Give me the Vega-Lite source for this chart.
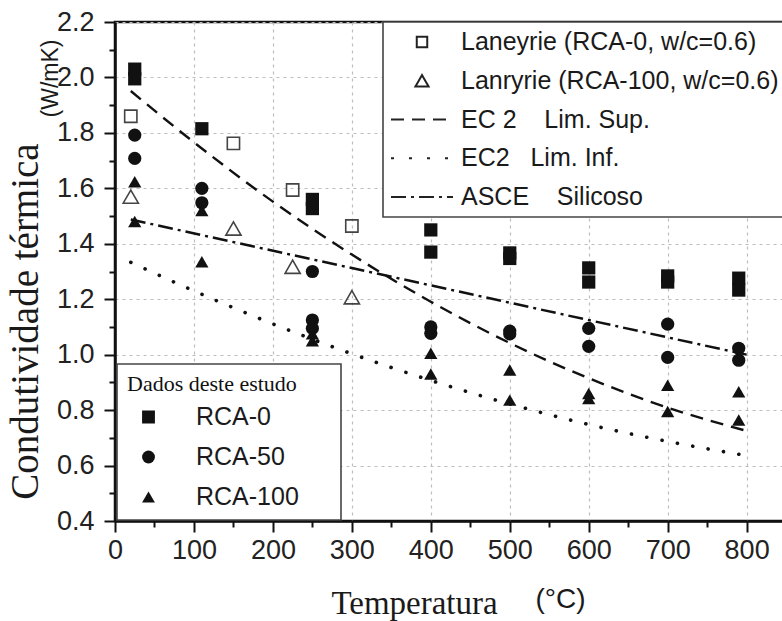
{
  "$schema": "https://vega.github.io/schema/vega-lite/v6.json",
  "width": 670,
  "height": 499,
  "autosize": {"type": "none"},
  "padding": {"left": 115, "top": 22, "right": 0, "bottom": 100},
  "background": "white",
  "config": {
    "view": {"stroke": "#111", "strokeWidth": 2.5},
    "font": "Liberation Sans",
    "axis": {
      "labelFont": "Liberation Sans", "labelFontSize": 27, "labelColor": "#222",
      "domainColor": "#111", "domainWidth": 2.5, "tickColor": "#111", "tickWidth": 2,
      "gridColor": "#bdbdbd", "gridDash": [3, 4], "gridWidth": 1.2,
      "labelFlush": false, "labelOverlap": false, "titleColor": "#1a1a1a"
    },
    "legend": {"strokeWidth": 1.6}
  },
  "datasets": {
    "estudo": [
      {"T": 25, "k": 2.03, "grupo": "RCA-0"}, {"T": 25, "k": 1.995, "grupo": "RCA-0"},
      {"T": 110, "k": 1.815, "grupo": "RCA-0"},
      {"T": 250, "k": 1.56, "grupo": "RCA-0"}, {"T": 250, "k": 1.527, "grupo": "RCA-0"},
      {"T": 400, "k": 1.45, "grupo": "RCA-0"}, {"T": 400, "k": 1.37, "grupo": "RCA-0"},
      {"T": 500, "k": 1.367, "grupo": "RCA-0"}, {"T": 500, "k": 1.347, "grupo": "RCA-0"},
      {"T": 600, "k": 1.313, "grupo": "RCA-0"}, {"T": 600, "k": 1.262, "grupo": "RCA-0"},
      {"T": 700, "k": 1.284, "grupo": "RCA-0"}, {"T": 700, "k": 1.262, "grupo": "RCA-0"},
      {"T": 790, "k": 1.276, "grupo": "RCA-0"}, {"T": 790, "k": 1.233, "grupo": "RCA-0"},
      {"T": 25, "k": 1.792, "grupo": "RCA-50"}, {"T": 25, "k": 1.708, "grupo": "RCA-50"},
      {"T": 110, "k": 1.6, "grupo": "RCA-50"}, {"T": 110, "k": 1.548, "grupo": "RCA-50"},
      {"T": 250, "k": 1.3, "grupo": "RCA-50"}, {"T": 250, "k": 1.125, "grupo": "RCA-50"}, {"T": 250, "k": 1.095, "grupo": "RCA-50"},
      {"T": 400, "k": 1.1, "grupo": "RCA-50"}, {"T": 400, "k": 1.077, "grupo": "RCA-50"},
      {"T": 500, "k": 1.085, "grupo": "RCA-50"}, {"T": 500, "k": 1.075, "grupo": "RCA-50"},
      {"T": 600, "k": 1.095, "grupo": "RCA-50"}, {"T": 600, "k": 1.03, "grupo": "RCA-50"},
      {"T": 700, "k": 1.11, "grupo": "RCA-50"}, {"T": 700, "k": 0.99, "grupo": "RCA-50"},
      {"T": 790, "k": 1.023, "grupo": "RCA-50"}, {"T": 790, "k": 0.98, "grupo": "RCA-50"},
      {"T": 25, "k": 1.624, "grupo": "RCA-100"}, {"T": 25, "k": 1.48, "grupo": "RCA-100"},
      {"T": 110, "k": 1.52, "grupo": "RCA-100"}, {"T": 110, "k": 1.335, "grupo": "RCA-100"},
      {"T": 250, "k": 1.075, "grupo": "RCA-100"}, {"T": 250, "k": 1.05, "grupo": "RCA-100"},
      {"T": 400, "k": 1.005, "grupo": "RCA-100"}, {"T": 400, "k": 0.93, "grupo": "RCA-100"},
      {"T": 500, "k": 0.945, "grupo": "RCA-100"}, {"T": 500, "k": 0.836, "grupo": "RCA-100"},
      {"T": 600, "k": 0.86, "grupo": "RCA-100"}, {"T": 600, "k": 0.842, "grupo": "RCA-100"},
      {"T": 700, "k": 0.89, "grupo": "RCA-100"}, {"T": 700, "k": 0.795, "grupo": "RCA-100"},
      {"T": 790, "k": 0.866, "grupo": "RCA-100"}, {"T": 790, "k": 0.764, "grupo": "RCA-100"}
    ],
    "laneyrie": [
      {"T": 20, "k": 1.86, "tipo": "RCA-0"}, {"T": 150, "k": 1.762, "tipo": "RCA-0"},
      {"T": 225, "k": 1.594, "tipo": "RCA-0"}, {"T": 300, "k": 1.464, "tipo": "RCA-0"},
      {"T": 20, "k": 1.57, "tipo": "RCA-100"}, {"T": 150, "k": 1.455, "tipo": "RCA-100"},
      {"T": 225, "k": 1.317, "tipo": "RCA-100"}, {"T": 300, "k": 1.207, "tipo": "RCA-100"}
    ],
    "curvas": [
      {"T": 20, "k": 1.951, "id": "sup", "serie": "EC 2\u00a0\u00a0\u00a0\u00a0Lim. Sup."},
      {"T": 100, "k": 1.766, "id": "sup", "serie": "EC 2\u00a0\u00a0\u00a0\u00a0Lim. Sup."},
      {"T": 200, "k": 1.552, "id": "sup", "serie": "EC 2\u00a0\u00a0\u00a0\u00a0Lim. Sup."},
      {"T": 300, "k": 1.361, "id": "sup", "serie": "EC 2\u00a0\u00a0\u00a0\u00a0Lim. Sup."},
      {"T": 400, "k": 1.191, "id": "sup", "serie": "EC 2\u00a0\u00a0\u00a0\u00a0Lim. Sup."},
      {"T": 500, "k": 1.042, "id": "sup", "serie": "EC 2\u00a0\u00a0\u00a0\u00a0Lim. Sup."},
      {"T": 600, "k": 0.915, "id": "sup", "serie": "EC 2\u00a0\u00a0\u00a0\u00a0Lim. Sup."},
      {"T": 700, "k": 0.809, "id": "sup", "serie": "EC 2\u00a0\u00a0\u00a0\u00a0Lim. Sup."},
      {"T": 800, "k": 0.725, "id": "sup", "serie": "EC 2\u00a0\u00a0\u00a0\u00a0Lim. Sup."},
      {"T": 20, "k": 1.333, "id": "inf", "serie": "EC2\u00a0\u00a0\u00a0Lim. Inf."},
      {"T": 100, "k": 1.23, "id": "inf", "serie": "EC2\u00a0\u00a0\u00a0Lim. Inf."},
      {"T": 200, "k": 1.111, "id": "inf", "serie": "EC2\u00a0\u00a0\u00a0Lim. Inf."},
      {"T": 300, "k": 1.003, "id": "inf", "serie": "EC2\u00a0\u00a0\u00a0Lim. Inf."},
      {"T": 400, "k": 0.907, "id": "inf", "serie": "EC2\u00a0\u00a0\u00a0Lim. Inf."},
      {"T": 500, "k": 0.822, "id": "inf", "serie": "EC2\u00a0\u00a0\u00a0Lim. Inf."},
      {"T": 600, "k": 0.748, "id": "inf", "serie": "EC2\u00a0\u00a0\u00a0Lim. Inf."},
      {"T": 700, "k": 0.687, "id": "inf", "serie": "EC2\u00a0\u00a0\u00a0Lim. Inf."},
      {"T": 800, "k": 0.636, "id": "inf", "serie": "EC2\u00a0\u00a0\u00a0Lim. Inf."},
      {"T": 20, "k": 1.4875, "id": "asce", "serie": "ASCE\u00a0\u00a0\u00a0\u00a0Silicoso"},
      {"T": 800, "k": 1.0, "id": "asce", "serie": "ASCE\u00a0\u00a0\u00a0\u00a0Silicoso"}
    ]
  },
  "resolve": {"axis": {"x": "independent", "y": "independent"}},
  "layer": [
    {
      "data": {"name": "curvas"},
      "transform": [{"filter": "datum.id !== 'inf'"}],
      "mark": {"type": "line", "strokeWidth": 2.4, "color": "#111", "interpolate": "monotone"},
      "encoding": {
        "x": {
          "field": "T", "type": "quantitative",
          "scale": {"domain": [0, 848.6], "nice": false, "zero": false},
          "axis": {
            "orient": "bottom", "values": [50, 150, 250, 350, 450, 550, 650, 750],
            "grid": false, "domain": false, "labels": false, "tickSize": 6,
            "title": "(°C)", "titleFont": "Liberation Sans", "titleFontSize": 28, "titleFontWeight": "normal",
            "titleX": 445, "titleY": 86, "titleBaseline": "alphabetic", "titleAlign": "center"
          }
        },
        "y": {
          "field": "k", "type": "quantitative",
          "scale": {"domain": [0.4, 2.2], "nice": false, "zero": false},
          "axis": {
            "orient": "left", "values": [0.5, 0.7, 0.9, 1.1, 1.3, 1.5, 1.7, 1.9, 2.1],
            "grid": false, "domain": false, "labels": false, "tickSize": 6,
            "title": "(W/mK)", "titleFont": "Liberation Sans", "titleFontSize": 23, "titleFontWeight": "normal",
            "titleX": -58, "titleY": 56, "titleBaseline": "alphabetic", "titleAlign": "center", "titleAngle": -90
          }
        },
        "strokeDash": {
          "field": "serie", "type": "nominal",
          "scale": {
            "domain": ["Laneyrie (RCA-0, w/c=0.6)", "Lanryrie (RCA-100, w/c=0.6)", "EC 2\u00a0\u00a0\u00a0\u00a0Lim. Sup.", "EC2\u00a0\u00a0\u00a0Lim. Inf.", "ASCE\u00a0\u00a0\u00a0\u00a0Silicoso"],
            "range": [[1, 0], [1, 0], [13, 8], [3, 15], [15, 5, 3, 5]]
          },
          "legend": {
            "title": null,
            "orient": "none", "legendX": 268, "legendY": 0, "direction": "vertical",
            "padding": 7, "fillColor": "white", "strokeColor": "#444",
            "symbolType": {"expr": "indexof(isString(datum) ? datum : datum.value, 'RCA-0,') >= 0 ? 'square' : (indexof(isString(datum) ? datum : datum.value, 'RCA-100,') >= 0 ? 'triangle-up' : 'stroke')"},
            "symbolSize": {"expr": "indexof(isString(datum) ? datum : datum.value, 'RCA-0,') >= 0 ? 110 : (indexof(isString(datum) ? datum : datum.value, 'RCA-100,') >= 0 ? 170 : 3844)"},
            "symbolStrokeColor": "#222", "symbolFillColor": "transparent", "symbolStrokeWidth": 2,
            "symbolOffset": 0, "clipHeight": 26, "rowPadding": 12.75, "labelOffset": 7,
            "labelFont": "Liberation Sans", "labelFontSize": 25, "labelColor": "#1a1a1a", "labelLimit": 600,
            "zindex": 1
          }
        }
      }
    },
    {
      "data": {"name": "curvas"},
      "transform": [{"filter": "datum.id === 'inf'"}],
      "mark": {"type": "line", "strokeWidth": 3.6, "strokeCap": "round", "strokeDash": [0.1, 15.5], "color": "#111", "interpolate": "monotone"},
      "encoding": {
        "x": {"field": "T", "type": "quantitative", "axis": null},
        "y": {"field": "k", "type": "quantitative", "axis": null}
      }
    },
    {
      "data": {"name": "laneyrie"},
      "transform": [{"filter": "datum.tipo === 'RCA-0'"}],
      "mark": {"type": "point", "shape": "square", "filled": false, "color": "#444", "strokeWidth": 1.6, "size": 150, "opacity": 1},
      "encoding": {
        "x": {"field": "T", "type": "quantitative", "axis": null},
        "y": {"field": "k", "type": "quantitative", "axis": null}
      }
    },
    {
      "data": {"name": "laneyrie"},
      "transform": [{"filter": "datum.tipo === 'RCA-100'"}],
      "mark": {"type": "point", "shape": "triangle-up", "filled": false, "color": "#444", "strokeWidth": 1.6, "size": 230, "opacity": 1},
      "encoding": {
        "x": {"field": "T", "type": "quantitative", "axis": null},
        "y": {"field": "k", "type": "quantitative", "axis": null}
      }
    },
    {
      "data": {"name": "estudo"},
      "mark": {"type": "point", "filled": true, "color": "#111", "size": 175, "opacity": 1},
      "encoding": {
        "x": {
          "field": "T", "type": "quantitative",
          "axis": {
            "orient": "bottom", "values": [0, 100, 200, 300, 400, 500, 600, 700, 800], "format": "d",
            "grid": true, "tickSize": 11, "labelPadding": 5,
            "title": "Temperatura", "titleFont": "Liberation Serif", "titleFontSize": 33, "titleFontWeight": "normal",
            "titleX": 299, "titleY": 92, "titleBaseline": "alphabetic", "titleAlign": "center"
          }
        },
        "y": {
          "field": "k", "type": "quantitative",
          "axis": {
            "orient": "left", "values": [0.4, 0.6, 0.8, 1.0, 1.2, 1.4, 1.6, 1.8, 2.0, 2.2], "format": ".1f",
            "grid": true, "tickSize": 11, "labelPadding": 10,
            "title": "Condutividade térmica", "titleFont": "Liberation Serif", "titleFontSize": 39, "titleFontWeight": "normal",
            "titleX": -78, "titleY": 299, "titleBaseline": "alphabetic", "titleAlign": "center", "titleAngle": -90
          }
        },
        "shape": {
          "field": "grupo", "type": "nominal",
          "scale": {"domain": ["RCA-0", "RCA-50", "RCA-100"], "range": ["square", "circle", "triangle-up"]},
          "legend": {
            "title": "Dados deste estudo", "titleFont": "Liberation Serif", "titleFontSize": 22, "titleFontWeight": "normal",
            "titleColor": "#111", "titlePadding": 11, "titleLimit": 400,
            "orient": "none", "legendX": 2, "legendY": 342, "direction": "vertical",
            "padding": 10, "fillColor": "white", "strokeColor": "#444",
            "symbolSize": 165, "symbolFillColor": "#111", "symbolStrokeWidth": 0, "symbolOffset": 9,
            "clipHeight": 20, "rowPadding": 15, "labelOffset": 35,
            "labelExpr": "datum.label === 'RCA-100' ? datum.label + '\u00a0\u00a0\u2800' : datum.label",
            "labelFont": "Liberation Sans", "labelFontSize": 25, "labelColor": "#1a1a1a", "labelLimit": 400,
            "zindex": 1
          }
        }
      }
    }
  ]
}
